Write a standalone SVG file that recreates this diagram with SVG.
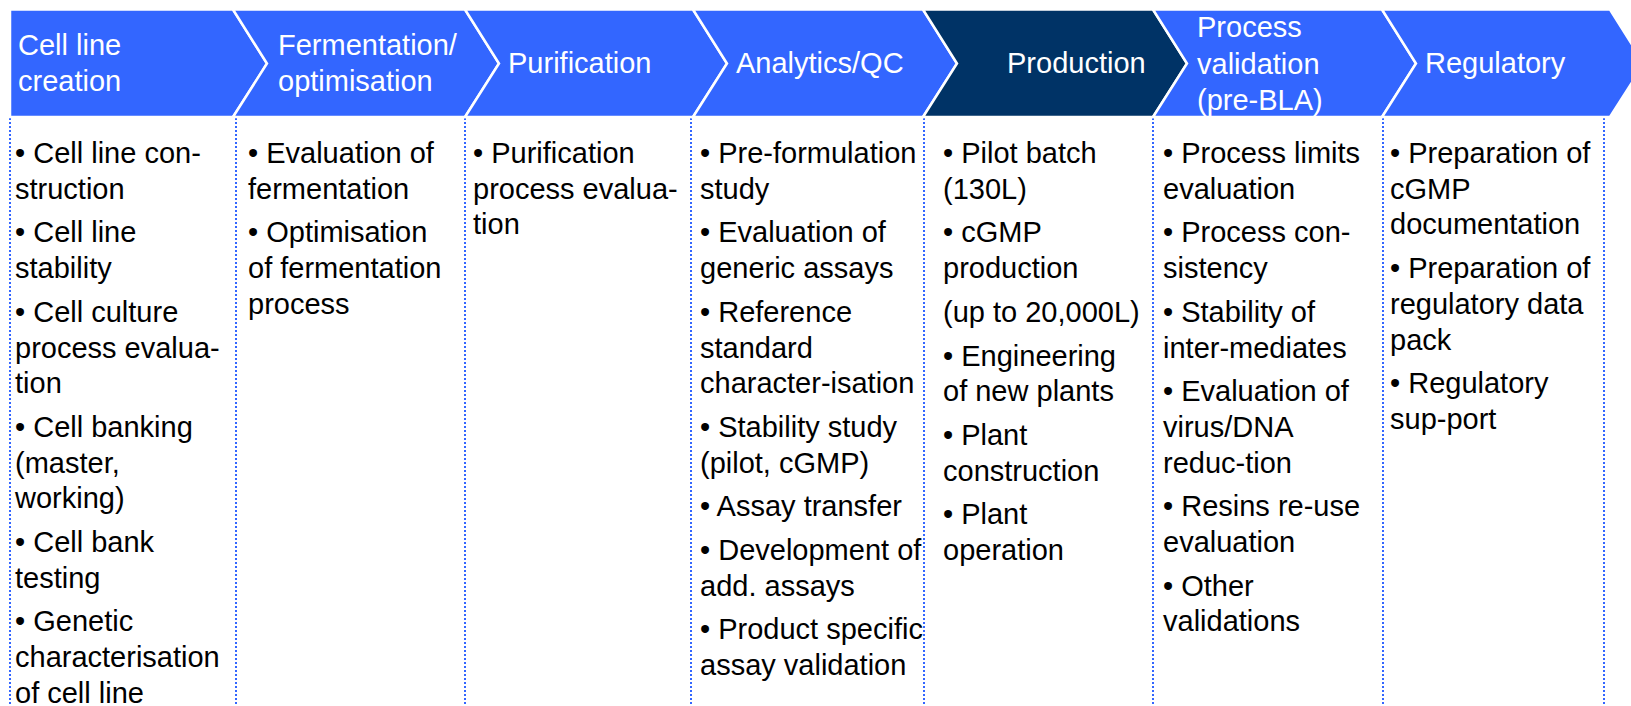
<svg xmlns="http://www.w3.org/2000/svg" width="1631" height="706" viewBox="0 0 1631 706">
<style>
.chev{fill:#3366FF;stroke:#FFFFFF;stroke-width:2.5;stroke-linejoin:miter}
.dark{fill:#003366}
.ht{font-family:"Liberation Sans",Arial,sans-serif;font-size:29px;fill:#FFFFFF}
.bt{font-family:"Liberation Sans",Arial,sans-serif;font-size:29px;fill:#000000}
.dot{stroke:#3366FF;stroke-width:2.5;stroke-dasharray:2 2;fill:none;shape-rendering:crispEdges}
</style>
<rect width="1631" height="706" fill="#FFFFFF"/>
<g id="connectors">
<line class="dot" x1="10" y1="118" x2="10" y2="706"/>
<line class="dot" x1="236" y1="118" x2="236" y2="706"/>
<line class="dot" x1="465" y1="118" x2="465" y2="706"/>
<line class="dot" x1="691" y1="118" x2="691" y2="706"/>
<line class="dot" x1="924" y1="118" x2="924" y2="706"/>
<line class="dot" x1="1153" y1="118" x2="1153" y2="706"/>
<line class="dot" x1="1383" y1="118" x2="1383" y2="706"/>
<line class="dot" x1="1604" y1="118" x2="1604" y2="706"/>
</g>
<g id="cell-line-creation">
<polygon class="chev" points="10,9.5 233,9.5 267,63.5 233,117 10,117"/>
<text class="ht"><tspan x="18" y="55">Cell line</tspan><tspan x="18" y="91">creation</tspan></text>
<text class="bt">
<tspan x="15" y="163">• Cell line con-</tspan><tspan x="15" y="198.7">struction</tspan>
<tspan x="15" y="242.4">• Cell line</tspan><tspan x="15" y="278.1">stability</tspan>
<tspan x="15" y="321.8">• Cell culture</tspan><tspan x="15" y="357.5">process evalua-</tspan><tspan x="15" y="393.2">tion</tspan>
<tspan x="15" y="436.9">• Cell banking</tspan><tspan x="15" y="472.6">(master,</tspan><tspan x="15" y="508.3">working)</tspan>
<tspan x="15" y="552">• Cell bank</tspan><tspan x="15" y="587.7">testing</tspan>
<tspan x="15" y="631.4">• Genetic</tspan><tspan x="15" y="667.1">characterisation</tspan><tspan x="15" y="702.8">of cell line</tspan>
</text>
</g>
<g id="fermentation">
<polygon class="chev" points="233,9.5 465,9.5 499,63.5 465,117 233,117 267,63.5"/>
<text class="ht"><tspan x="278" y="55">Fermentation/</tspan><tspan x="278" y="91">optimisation</tspan></text>
<text class="bt">
<tspan x="248" y="163">• Evaluation of</tspan><tspan x="248" y="198.7">fermentation</tspan>
<tspan x="248" y="242.4">• Optimisation</tspan><tspan x="248" y="278.1">of fermentation</tspan><tspan x="248" y="313.8">process</tspan>
</text>
</g>
<g id="purification">
<polygon class="chev" points="465,9.5 693,9.5 727,63.5 693,117 465,117 499,63.5"/>
<text class="ht" x="508" y="73">Purification</text>
<text class="bt">
<tspan x="473" y="163">• Purification</tspan><tspan x="473" y="198.7">process evalua-</tspan><tspan x="473" y="234.4">tion</tspan>
</text>
</g>
<g id="analytics-qc">
<polygon class="chev" points="693,9.5 923,9.5 957,63.5 923,117 693,117 727,63.5"/>
<text class="ht" x="736" y="73">Analytics/QC</text>
<text class="bt">
<tspan x="700" y="163">• Pre-formulation</tspan><tspan x="700" y="198.7">study</tspan>
<tspan x="700" y="242.4">• Evaluation of</tspan><tspan x="700" y="278.1">generic assays</tspan>
<tspan x="700" y="321.8">• Reference</tspan><tspan x="700" y="357.5">standard</tspan><tspan x="700" y="393.2">character-isation</tspan>
<tspan x="700" y="436.9">• Stability study</tspan><tspan x="700" y="472.6">(pilot, cGMP)</tspan>
<tspan x="700" y="516.3">• Assay transfer</tspan>
<tspan x="700" y="560">• Development of</tspan><tspan x="700" y="595.7">add. assays</tspan>
<tspan x="700" y="639.4">• Product specific</tspan><tspan x="700" y="675.1">assay validation</tspan>
</text>
</g>
<g id="production">
<polygon class="chev dark" points="923,9.5 1153,9.5 1187,63.5 1153,117 923,117 957,63.5"/>
<text class="ht" x="1007" y="73">Production</text>
<text class="bt">
<tspan x="943" y="163">• Pilot batch</tspan><tspan x="943" y="198.7">(130L)</tspan>
<tspan x="943" y="242.4">• cGMP</tspan><tspan x="943" y="278.1">production</tspan>
<tspan x="943" y="321.8">(up to 20,000L)</tspan>
<tspan x="943" y="365.5">• Engineering</tspan><tspan x="943" y="401.2">of new plants</tspan>
<tspan x="943" y="444.9">• Plant</tspan><tspan x="943" y="480.6">construction</tspan>
<tspan x="943" y="524.3">• Plant</tspan><tspan x="943" y="560">operation</tspan>
</text>
</g>
<g id="process-validation">
<polygon class="chev" points="1153,9.5 1382,9.5 1416,63.5 1382,117 1153,117 1187,63.5"/>
<text class="ht"><tspan x="1197" y="37">Process</tspan><tspan x="1197" y="74">validation</tspan><tspan x="1197" y="110">(pre-BLA)</tspan></text>
<text class="bt">
<tspan x="1163" y="163">• Process limits</tspan><tspan x="1163" y="198.7">evaluation</tspan>
<tspan x="1163" y="242.4">• Process con-</tspan><tspan x="1163" y="278.1">sistency</tspan>
<tspan x="1163" y="321.8">• Stability of</tspan><tspan x="1163" y="357.5">inter-mediates</tspan>
<tspan x="1163" y="401.2">• Evaluation of</tspan><tspan x="1163" y="436.9">virus/DNA</tspan><tspan x="1163" y="472.6">reduc-tion</tspan>
<tspan x="1163" y="516.3">• Resins re-use</tspan><tspan x="1163" y="552">evaluation</tspan>
<tspan x="1163" y="595.7">• Other</tspan><tspan x="1163" y="631.4">validations</tspan>
</text>
</g>
<g id="regulatory">
<polygon class="chev" points="1382,9.5 1610,9.5 1644,63.5 1610,117 1382,117 1416,63.5"/>
<text class="ht" x="1425" y="73">Regulatory</text>
<text class="bt">
<tspan x="1390" y="163">• Preparation of</tspan><tspan x="1390" y="198.7">cGMP</tspan><tspan x="1390" y="234.4">documentation</tspan>
<tspan x="1390" y="278.1">• Preparation of</tspan><tspan x="1390" y="313.8">regulatory data</tspan><tspan x="1390" y="349.5">pack</tspan>
<tspan x="1390" y="393.2">• Regulatory</tspan><tspan x="1390" y="428.9">sup-port</tspan>
</text>
</g>
</svg>
